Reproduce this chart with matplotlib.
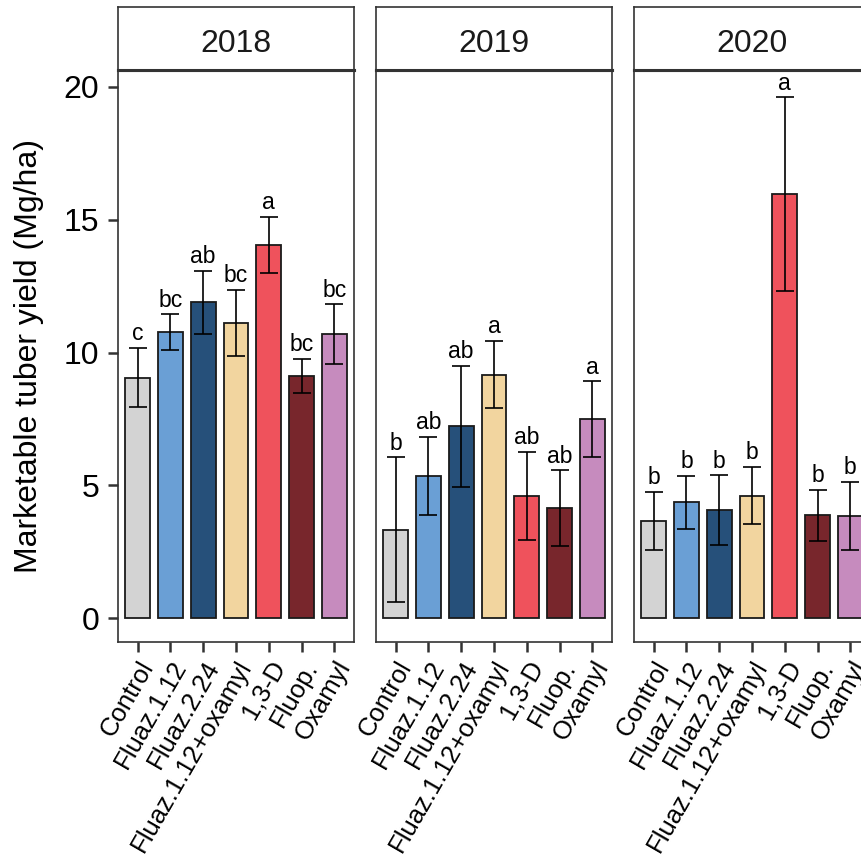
import matplotlib
matplotlib.use("Agg")
import matplotlib.pyplot as plt

plt.rcParams['font.family'] = ['Liberation Sans', 'DejaVu Sans']

treatments = ["Control", "Fluaz.1.12", "Fluaz.2.24", "Fluaz.1.12+oxamyl",
              "1,3-D", "Fluop.", "Oxamyl"]
years = ["2018", "2019", "2020"]

# mean marketable yield (Mg/ha) and standard error per year
yield_2018 = [9.06, 10.76, 11.89, 11.11, 14.05, 9.13, 10.69]
se_2018 = [1.11, 0.68, 1.19, 1.25, 1.07, 0.64, 1.12]
yield_2019 = [3.32, 5.35, 7.23, 9.17, 4.60, 4.13, 7.48]
se_2019 = [2.73, 1.48, 2.28, 1.26, 1.67, 1.43, 1.43]
yield_2020 = [3.65, 4.36, 4.07, 4.61, 15.96, 3.87, 3.85]
se_2020 = [1.10, 1.00, 1.30, 1.07, 3.65, 0.97, 1.27]

letters_2018 = ["c", "bc", "ab", "bc", "a", "bc", "bc"]
letters_2019 = ["b", "ab", "ab", "a", "ab", "ab", "a"]
letters_2020 = ["b", "b", "b", "b", "a", "b", "b"]

colors = ["#D3D3D3", "#6A9FD5", "#26507A", "#F2D59F",
          "#EF525C", "#78262C", "#C68BBE"]

yield_by_year = [yield_2018, yield_2019, yield_2020]
se_by_year = [se_2018, se_2019, se_2020]
letters_by_year = [letters_2018, letters_2019, letters_2020]

W = 861
H = 861
BORDER = "#333333"


def px_box(x0, y0, x1, y1):
    # pixel box (top-left origin) -> figure fraction rect
    return [x0 / W, 1 - y1 / H, (x1 - x0) / W, (y1 - y0) / H]


def draw_panel(fig, i):
    left = 118 + i * 258
    ax = fig.add_axes(px_box(left, 70, left + 236, 642))
    strip = fig.add_axes(px_box(left, 7, left + 236, 70))

    x = range(len(treatments))
    means = yield_by_year[i]
    ses = se_by_year[i]
    ax.bar(x, means, width=0.75, color=colors, edgecolor="#1a1a1a",
           linewidth=1.3, zorder=2)
    ax.errorbar(x, means, yerr=ses, fmt="none", ecolor="black",
                elinewidth=1.2, capsize=6.2, capthick=1.2, zorder=3)
    for xi, m, s, lab in zip(x, means, ses, letters_by_year[i]):
        ax.annotate(lab, (xi, m + s), xytext=(0, 2), textcoords="offset points",
                    ha="center", va="bottom", fontsize=16.5, color="black")

    ax.set_xlim(-0.6, 6.6)
    ax.set_ylim(-0.9, 20.64)
    ax.set_yticks([0, 5, 10, 15, 20])
    ax.tick_params(axis="both", length=7.5, width=1.8, color=BORDER)
    ax.tick_params(axis="y", labelsize=23, pad=6)
    ax.tick_params(axis="x", pad=3)
    ax.set_xticks(list(x))
    ax.set_xticklabels(treatments, rotation=60, ha="right", va="top",
                       rotation_mode="anchor", fontsize=18.5)
    if i == 0:
        ax.set_ylabel("Marketable tuber yield (Mg/ha)", fontsize=23, labelpad=14)
    else:
        ax.tick_params(axis="y", left=False, labelleft=False)
    for sp in ax.spines.values():
        sp.set_color(BORDER)
        sp.set_linewidth(1.2)
    ax.spines["top"].set_linewidth(2.2)

    strip.set_xticks([])
    strip.set_yticks([])
    for sp in strip.spines.values():
        sp.set_color(BORDER)
        sp.set_linewidth(1.2)
    strip.spines["bottom"].set_linewidth(2.2)
    strip.text(0.5, 0.47, years[i], transform=strip.transAxes, ha="center",
               va="center_baseline", fontsize=23, color="#1a1a1a")


def main():
    fig = plt.figure(figsize=(W / 100, H / 100), dpi=100)
    for i in range(len(years)):
        draw_panel(fig, i)
    fig.savefig("out.png", dpi=100, facecolor="white")


if __name__ == '__main__':
    main()
